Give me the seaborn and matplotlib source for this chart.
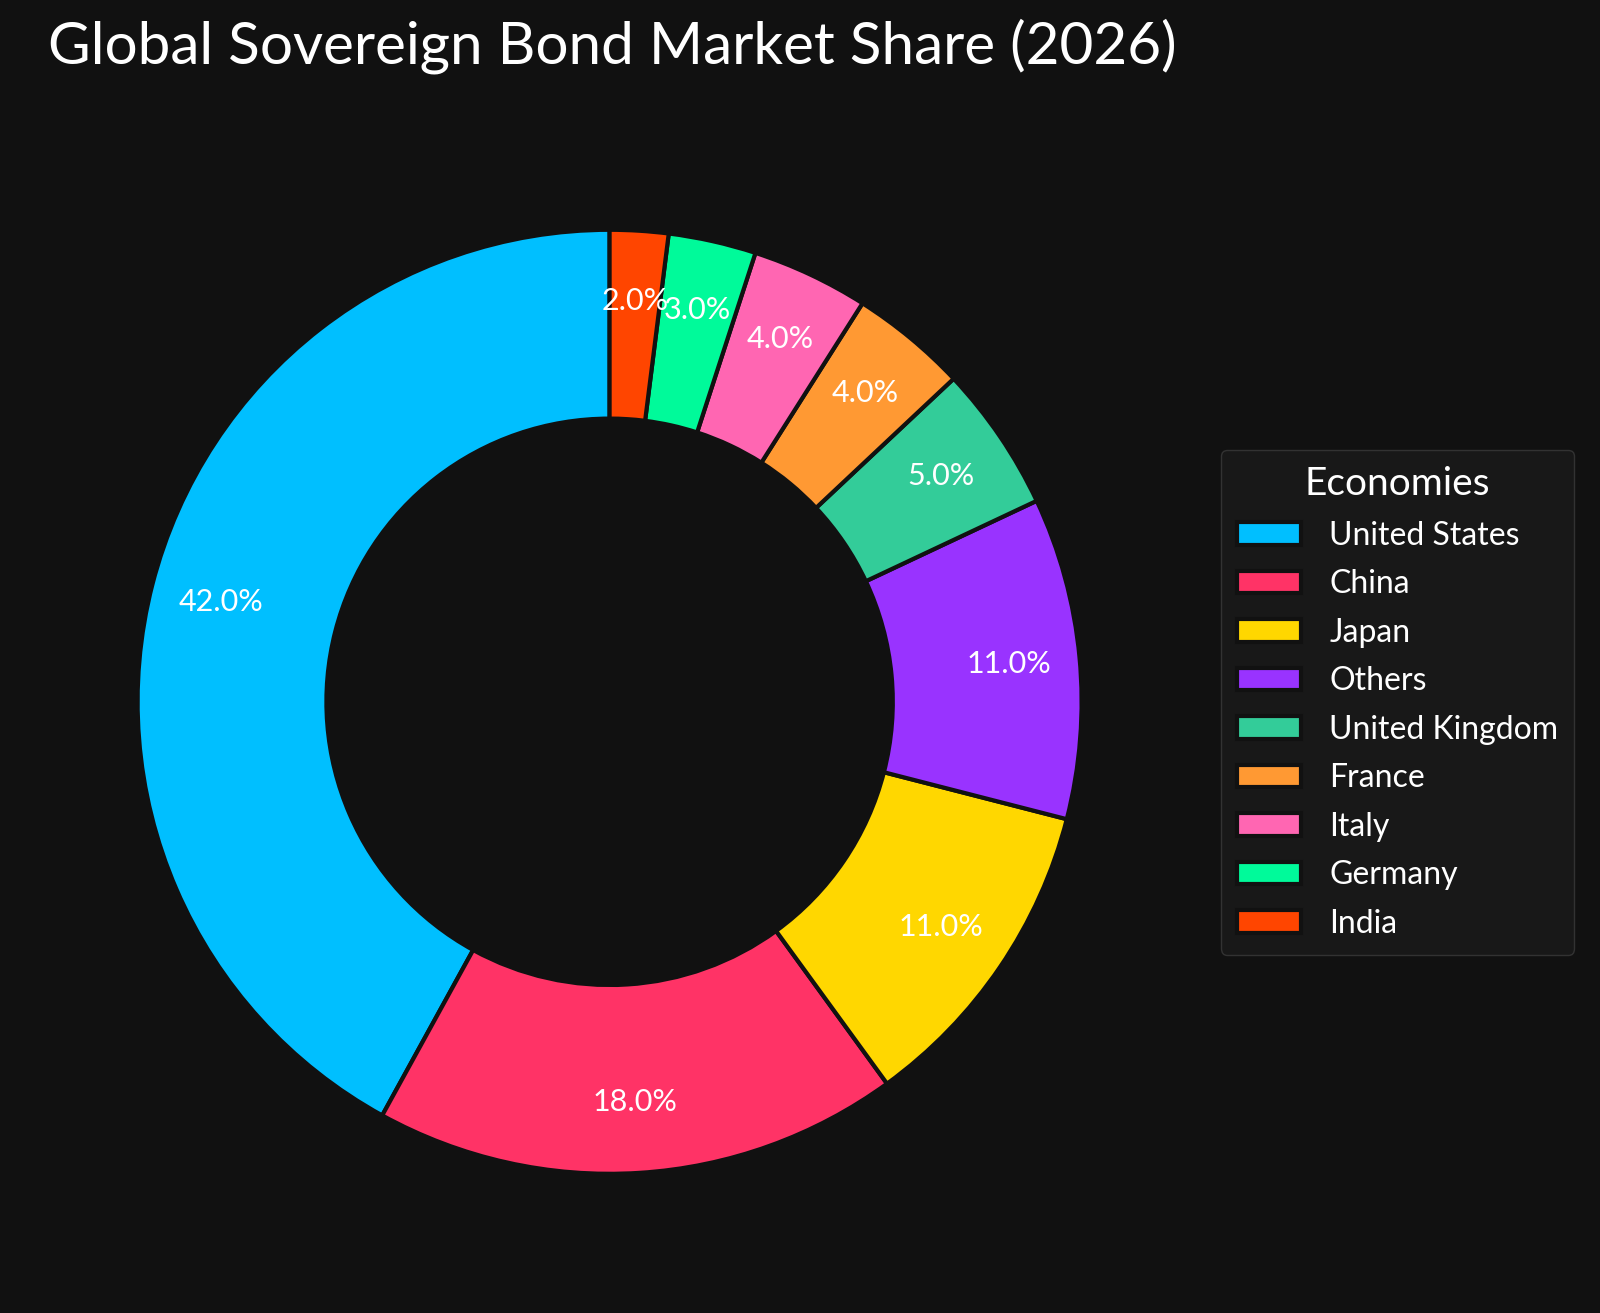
import matplotlib
matplotlib.use("Agg")
import matplotlib.pyplot as plt
import seaborn as sns

economies = ["United States", "China", "Japan", "Others", "United Kingdom",
             "France", "Italy", "Germany", "India"]
shares = [42, 18, 11, 11, 5, 4, 4, 3, 2]
hex_colors = ["#00BFFF", "#FF3366", "#FFD700", "#9933FF", "#33CC99",
              "#FF9933", "#FF66B2", "#00FA9A", "#FF4500"]

bg = "#111111"
sns.set_theme(style="dark", rc={"figure.facecolor": bg, "axes.facecolor": bg,
                                "text.color": "white"})
plt.rcParams["font.family"] = ["Lato", "DejaVu Sans"]
palette = sns.color_palette(hex_colors)

fig = plt.figure(figsize=(16, 13.13), dpi=100)
ax = fig.add_axes([0.086, 0.106, 0.59, 0.719])

wedges, texts, autotexts = ax.pie(
    shares, colors=palette, startangle=90, counterclock=True,
    autopct="%1.1f%%", pctdistance=0.85,
    wedgeprops=dict(width=0.4, edgecolor=bg, linewidth=3),
    textprops=dict(color="white", fontsize=22))
ax.set_xlim(-1, 1)
ax.set_ylim(-1, 1)
ax.set_aspect("equal")

fig.text(0.03, 0.965, "Global Sovereign Bond Market Share (2026)",
         fontsize=42, color="white", ha="left", va="center")

leg = fig.legend(wedges, economies, title="Economies", loc="center left",
                 bbox_to_anchor=(0.753, 0.465), fontsize=23, title_fontsize=28,
                 frameon=True, facecolor="#1b1b1b", edgecolor="#3a3a3a",
                 labelcolor="white", handlelength=2.0, handleheight=0.7,
                 handletextpad=0.9, borderpad=0.5, labelspacing=0.58)
leg.get_title().set_color("white")

fig.savefig("out.png", facecolor=bg)
